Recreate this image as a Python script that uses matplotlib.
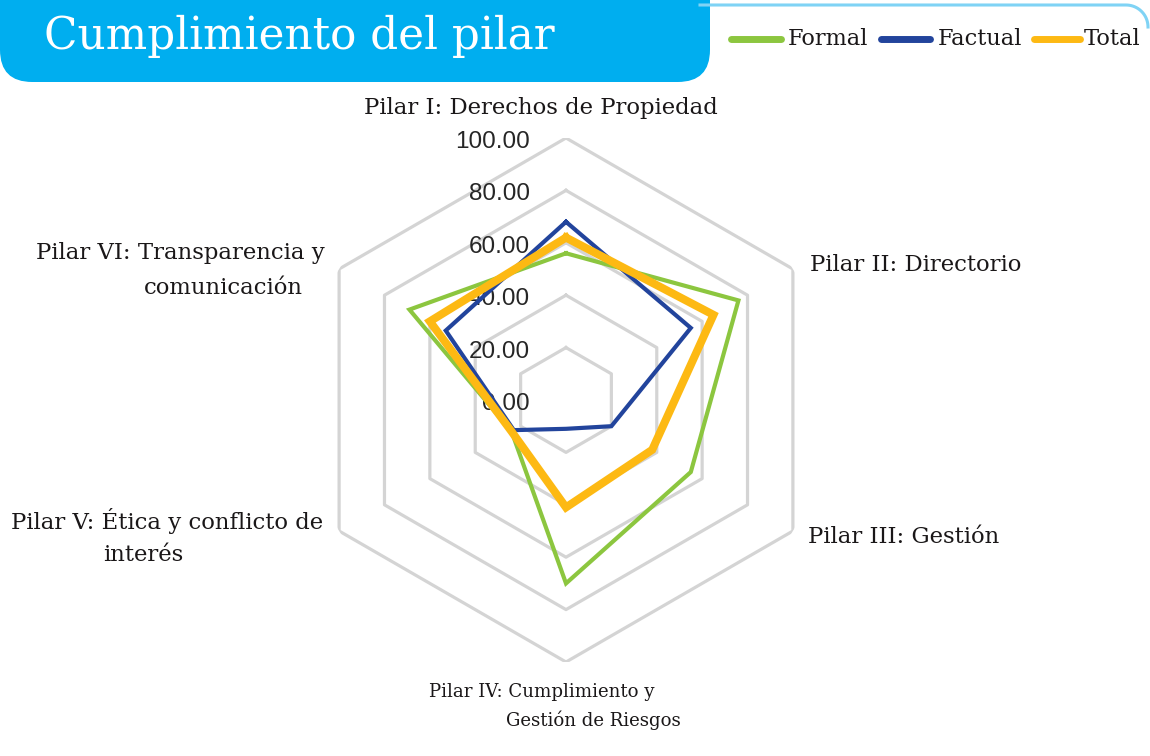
import numpy
from matplotlib import pyplot
from matplotlib.lines import Line2D
from matplotlib.patches import FancyBboxPatch
from matplotlib.transforms import ScaledTranslation

categories = ['Pilar I', 'Pilar II', 'Pilar III', 'Pilar IV', 'Pilar V', 'Pilar VI']
formal = [56, 76, 55, 70, 24, 69]
factual = [68, 55, 20, 11, 23, 53]
total = [62, 65, 38, 41, 24, 60]
ring_values = [0, 20, 40, 60, 80, 100]
series_names = ['Formal', 'Factual', 'Total']

W, H = 1150, 756
slab = ['DejaVu Serif']
text_col = '#1A1718'


def fx(px):
    return px / W


def fy(py):
    return 1 - py / H


fig = pyplot.figure(figsize=(11.5, 7.56), dpi=100)

# polar axes: centre at (566, 400) px, radius 262 px
ax = fig.add_axes([fx(566 - 262), fy(400 + 262), 524 / W, 524 / H], projection='polar')
ax.set_theta_offset(numpy.pi / 2)
ax.set_theta_direction(-1)
ax.set_ylim(0, 100)
ax.grid(False)
ax.spines['polar'].set_visible(False)
ax.set_xticks([])
ax.set_yticks([])
ax.patch.set_alpha(0)

angles = numpy.linspace(0, 2 * numpy.pi, len(categories), endpoint=False)
closed = numpy.append(angles, angles[0])

for r in ring_values[1:]:
    ax.plot(closed, [r] * len(closed), color='#D4D4D4', lw=2.3, zorder=1)

off = ScaledTranslation(-0.36, -0.04, fig.dpi_scale_trans)
for r in ring_values:
    ax.text(0, r, f'{r:.2f}', transform=ax.transData + off, ha='right', va='center',
            fontsize=17.5, family='Liberation Sans', color='#262626', zorder=2)

colors = {'Formal': '#8CC63F', 'Factual': '#22449C', 'Total': '#FDB913'}
widths = {'Formal': 3.0, 'Factual': 3.0, 'Total': 5.8}
for name, vals in zip(series_names, [formal, factual, total]):
    ax.plot(closed, vals + vals[:1], color=colors[name], lw=widths[name],
            solid_joinstyle='miter', zorder=3)

# category labels
lab = dict(family=slab, color=text_col, fontsize=16.4)
fig.text(fx(541), fy(108), 'Pilar I: Derechos de Propiedad', ha='center', va='center', **lab)
fig.text(fx(810), fy(265), 'Pilar II: Directorio', ha='left', va='center', **lab)
fig.text(fx(808), fy(537), 'Pilar III: Gestión', ha='left', va='center', **lab)
fig.text(fx(325), fy(253), 'Pilar VI: Transparencia y', ha='right', va='center', **lab)
fig.text(fx(144), fy(288), 'comunicación', ha='left', va='center', **lab)
fig.text(fx(323), fy(521), 'Pilar V: Ética y conflicto de', ha='right', va='center', **lab)
fig.text(fx(103), fy(555), 'interés', ha='left', va='center', **lab)
small = dict(family=slab, color=text_col, fontsize=13.1)
fig.text(fx(429), fy(692), 'Pilar IV: Cumplimiento y', ha='left', va='center', **small)
fig.text(fx(506), fy(720), 'Gestión de Riesgos', ha='left', va='center', **small)

# header box
box = FancyBboxPatch((fx(0), fy(82)), fx(710), 82 / H + 0.1,
                     boxstyle='round,pad=0,rounding_size=0.028',
                     transform=fig.transFigure, facecolor='#00AEEF', edgecolor='none',
                     mutation_aspect=W / H, zorder=0)
fig.patches.append(box)
fig.text(fx(44), fy(36), 'Cumplimiento del pilar', ha='left', va='center',
         family=slab, fontsize=31.5, color='white')

# thin top rule with a rounded right end
arc = numpy.linspace(numpy.pi / 2, 0, 20)
lx = numpy.concatenate([[700], 1126 + 22 * numpy.cos(arc)])
ly = numpy.concatenate([[5], 27 - 22 * numpy.sin(arc)])
fig.lines.append(Line2D(fx(lx), fy(ly), transform=fig.transFigure, color='#7FD3F5', lw=2.2))

# legend drawn by hand to match the spacing
legend_x = [(731, 781, 788), (881, 930, 938), (1034, 1080, 1084)]
for name, (x0, x1, xt) in zip(series_names, legend_x):
    fig.lines.append(Line2D([fx(x0), fx(x1)], [fy(39), fy(39)], transform=fig.transFigure,
                            color=colors[name], lw=5, solid_capstyle='round'))
    fig.text(fx(xt), fy(39), name, ha='left', va='center', family=slab,
             fontsize=16.2, color=text_col)

pyplot.savefig('out.png', dpi=100)
